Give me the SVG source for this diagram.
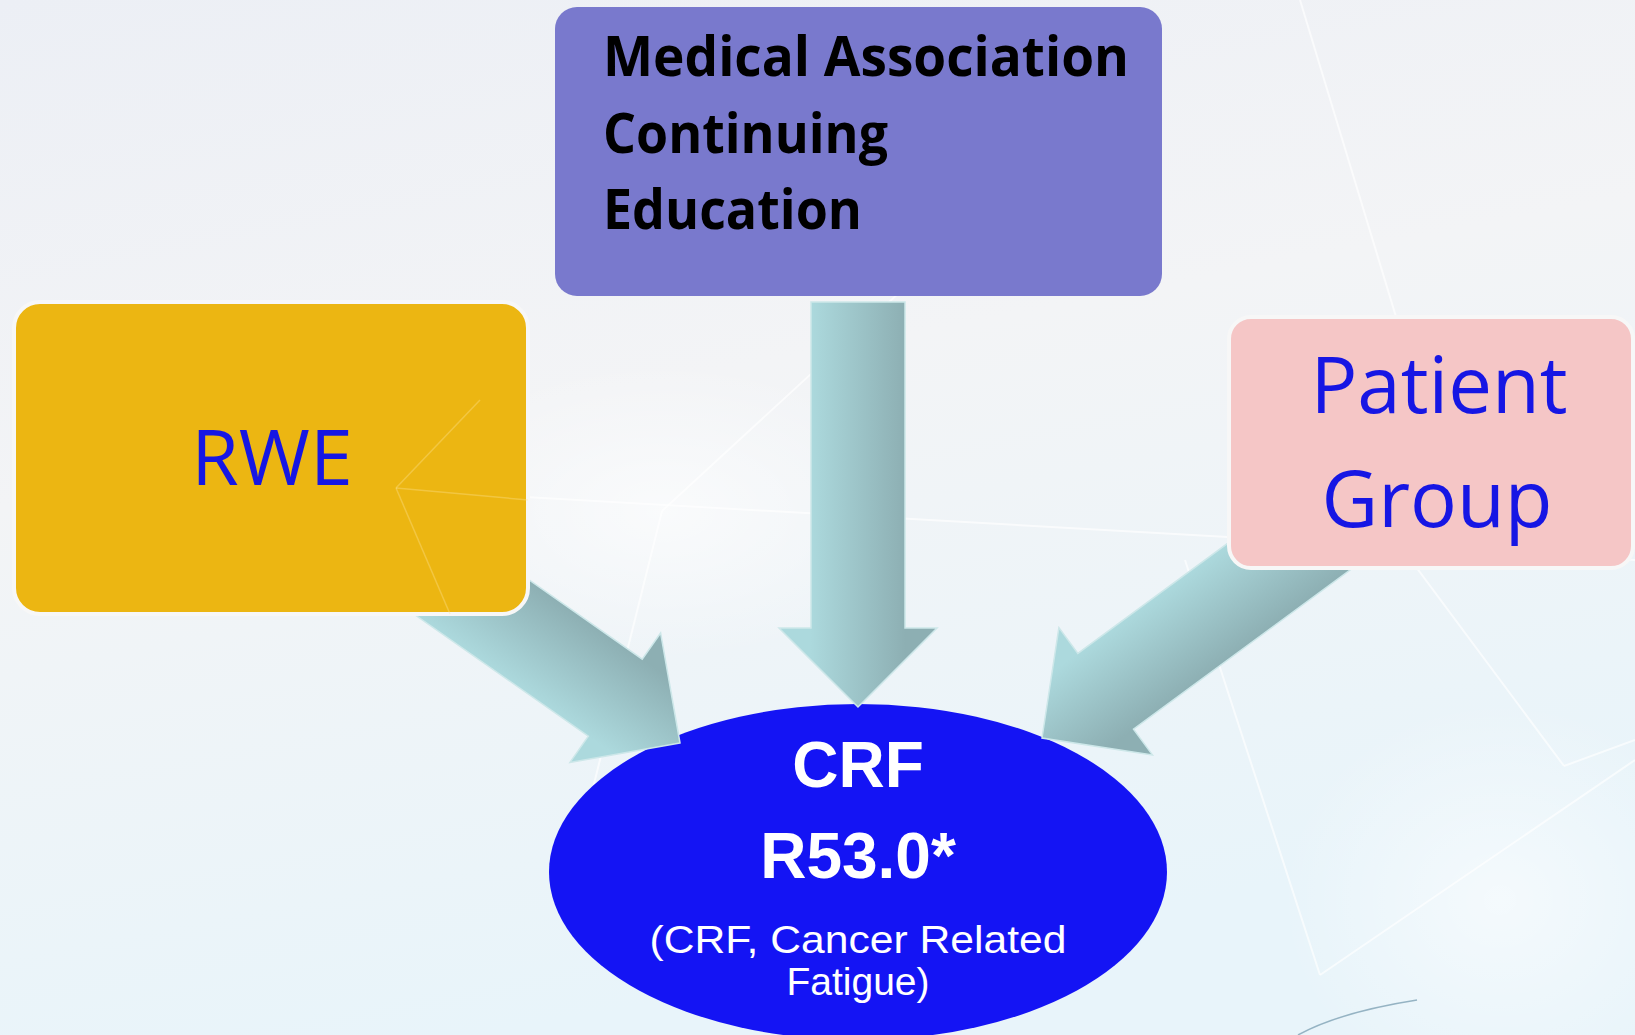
<svg xmlns="http://www.w3.org/2000/svg" width="1635" height="1035" viewBox="0 0 1635 1035">
  <defs>
    <linearGradient id="bg" x1="0" y1="0" x2="0.3" y2="1">
      <stop offset="0" stop-color="#ECEFF5"/>
      <stop offset="0.45" stop-color="#F3F4F6"/>
      <stop offset="1" stop-color="#E8F4FA"/>
    </linearGradient>
    <radialGradient id="glow" cx="0.5" cy="0.5" r="0.5">
      <stop offset="0" stop-color="#FFFFFF" stop-opacity="0.9"/>
      <stop offset="1" stop-color="#FFFFFF" stop-opacity="0"/>
    </radialGradient>
    <linearGradient id="arrowGrad" x1="0" y1="0" x2="1" y2="0">
      <stop offset="0.2" stop-color="#ACD9DD"/>
      <stop offset="0.8" stop-color="#8DAFB3"/>
    </linearGradient>
    <style>
      .arrow { fill: url(#arrowGrad); stroke: #CDE7E9; stroke-width: 1.5; }
      .net { stroke: #FFFFFF; stroke-width: 2; opacity: 0.65; fill: none; }
      .flare { stroke: #FFE69A; stroke-width: 1.5; opacity: 0.35; fill: none; }
      .box { stroke: #F7F7F7; stroke-width: 4; }
      .boxText { font-family: "Open Sans", "Noto Sans", sans-serif; font-weight: 500; fill: #1616E4; text-anchor: middle; }
      .medText { font-family: "Open Sans", "Noto Sans", sans-serif; font-weight: 700; font-size: 56px; fill: #000000; }
      .crfBig { font-family: "Liberation Sans", Arial, sans-serif; font-weight: 700; font-size: 64px; fill: #FFFFFF; text-anchor: middle; }
      .crfSmall { font-family: "Liberation Sans", Arial, sans-serif; font-size: 39px; fill: #FFFFFF; text-anchor: middle; }
    </style>
  </defs>

  <!-- background -->
  <rect x="0" y="0" width="1635" height="1035" fill="url(#bg)"/>
  <g id="background-network">
    <ellipse cx="662" cy="511" rx="260" ry="150" fill="url(#glow)" opacity="0.7"/>
    <ellipse cx="1500" cy="900" rx="220" ry="200" fill="url(#glow)" opacity="0.6"/>
    <line class="net" x1="400" y1="490" x2="1635" y2="560"/>
    <line class="net" x1="662" y1="511" x2="1000" y2="200"/>
    <line class="net" x1="662" y1="511" x2="590" y2="800"/>
    <line class="net" x1="1277" y1="380" x2="1564" y2="766"/>
    <line class="net" x1="1564" y1="766" x2="1635" y2="740"/>
    <line class="net" x1="1300" y1="0" x2="1400" y2="330"/>
    <line class="net" x1="1185" y1="560" x2="1320" y2="975"/>
    <line class="net" x1="1320" y1="975" x2="1635" y2="760"/>
    <path d="M1298,1035 Q1340,1012 1417,1000" fill="none" stroke="#7FA3B5" stroke-width="1.5" opacity="0.8"/>
  </g>

  <!-- CRF ellipse node -->
  <g id="node-crf">
    <ellipse cx="858" cy="872" rx="309" ry="168" fill="#1414F4"/>
    <text class="crfBig" x="858" y="787">CRF</text>
    <text class="crfBig" x="858" y="878">R53.0*</text>
    <text class="crfSmall" x="858" y="953" textLength="417" lengthAdjust="spacingAndGlyphs">(CRF, Cancer Related</text>
    <text class="crfSmall" x="858" y="995">Fatigue)</text>
  </g>

  <!-- connectors -->
  <g id="connectors">
    <path class="arrow" transform="translate(858,707)" d="M0,0 L-79,-79 L-47,-79 L-47,-405 L47,-405 L47,-79 L79,-79 Z"/>
    <path class="arrow" transform="translate(680,743) rotate(-55)" d="M0,0 L-79,-79 L-47,-79 L-47,-380 L47,-380 L47,-79 L79,-79 Z"/>
    <path class="arrow" transform="translate(1042,738) rotate(53.7)" d="M0,0 L-79,-79 L-47,-79 L-47,-380 L47,-380 L47,-79 L79,-79 Z"/>
  </g>

  <!-- Medical Association Continuing Education -->
  <g id="node-medical">
    <rect x="555" y="7" width="607" height="289" rx="22" fill="#7979CD"/>
    <text class="medText" x="603" y="76" textLength="526" lengthAdjust="spacingAndGlyphs">Medical Association</text>
    <text class="medText" x="603" y="153" textLength="285" lengthAdjust="spacingAndGlyphs">Continuing</text>
    <text class="medText" x="603" y="229" textLength="259" lengthAdjust="spacingAndGlyphs">Education</text>
  </g>

  <!-- RWE -->
  <g id="node-rwe">
    <rect class="box" x="14" y="302" width="514" height="312" rx="26" fill="#ECB612"/>
    <line class="flare" x1="396" y1="488" x2="528" y2="500"/>
    <line class="flare" x1="396" y1="488" x2="480" y2="400"/>
    <line class="flare" x1="396" y1="488" x2="450" y2="614"/>
    <text class="boxText" x="272" y="485" font-size="77">RWE</text>
  </g>

  <!-- Patient Group -->
  <g id="node-patient">
    <rect class="box" x="1229" y="317" width="404" height="251" rx="22" fill="#F5C6C6"/>
    <text class="boxText" x="1439" y="413" font-size="78">Patient</text>
    <text class="boxText" x="1437" y="527" font-size="78">Group</text>
  </g>
</svg>
